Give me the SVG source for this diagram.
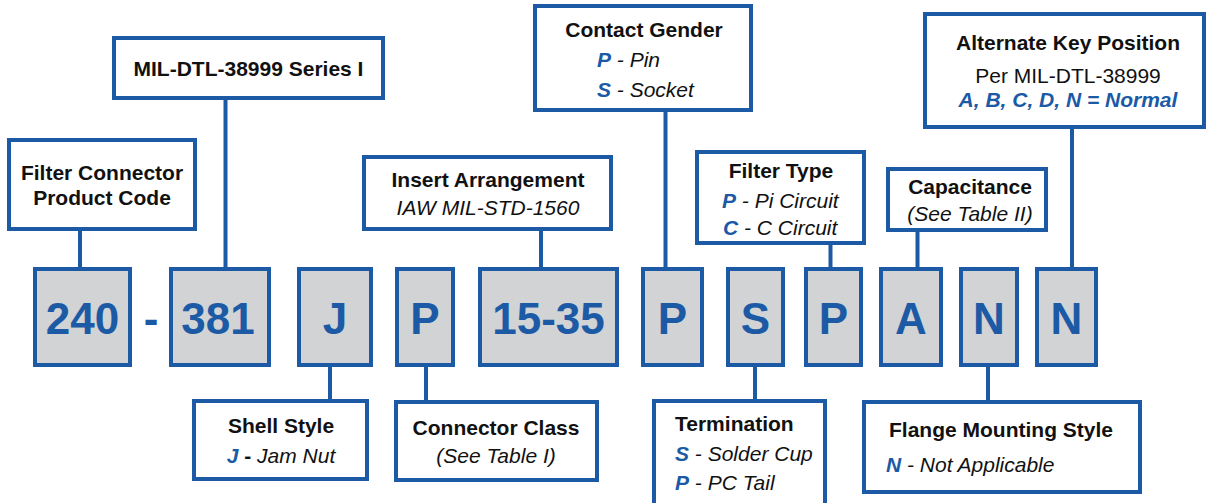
<svg xmlns="http://www.w3.org/2000/svg" width="1209" height="503" viewBox="0 0 1209 503">
<style>
text{font-family:"Liberation Sans",Arial,sans-serif;font-size:21px;fill:#111}
.box{fill:#fff;stroke:#1c5aa6;stroke-width:4}
.code{fill:#d1d3d4;stroke:#1c5aa6;stroke-width:4}
.ct{font-size:44px;font-weight:bold;fill:#1c5aa6;text-anchor:middle}
.t{font-weight:bold;text-anchor:middle}
.c{text-anchor:middle}
.i{font-style:italic}
.k{font-weight:bold;font-style:italic;fill:#1c5aa6}
.ln{stroke:#1c5aa6;stroke-width:4;fill:none}
</style>
<g id="connectors">
<line class="ln" x1="80" y1="229" x2="80" y2="269"/>
<line class="ln" x1="225.5" y1="98" x2="225.5" y2="269"/>
<line class="ln" x1="541" y1="229" x2="541" y2="269"/>
<line class="ln" x1="665.5" y1="110" x2="665.5" y2="269"/>
<line class="ln" x1="830.5" y1="243" x2="830.5" y2="269"/>
<line class="ln" x1="917.5" y1="230" x2="917.5" y2="269"/>
<line class="ln" x1="1072" y1="127" x2="1072" y2="269"/>
<line class="ln" x1="330" y1="365" x2="330" y2="403"/>
<line class="ln" x1="426" y1="365" x2="426" y2="404"/>
<line class="ln" x1="755" y1="365" x2="755" y2="403"/>
<line class="ln" x1="988" y1="365" x2="988" y2="404"/>
</g>
<g id="code-240"><rect class="code" x="35" y="269" width="95" height="96"/><text class="ct" x="82.5" y="334">240</text></g>
<g id="code-dash"><text class="ct" x="151" y="334">-</text></g>
<g id="code-381"><rect class="code" x="171" y="269" width="98" height="96"/><text class="ct" x="218" y="334">381</text></g>
<g id="code-J"><rect class="code" x="299" y="269" width="72" height="96"/><text class="ct" x="335" y="334">J</text></g>
<g id="code-P1"><rect class="code" x="397" y="269" width="56" height="96"/><text class="ct" x="425" y="334">P</text></g>
<g id="code-1535"><rect class="code" x="480" y="269" width="137" height="96"/><text class="ct" x="548.5" y="334">15-35</text></g>
<g id="code-P2"><rect class="code" x="643" y="269" width="59" height="96"/><text class="ct" x="672.5" y="334">P</text></g>
<g id="code-S"><rect class="code" x="728" y="269" width="55" height="96"/><text class="ct" x="755.5" y="334">S</text></g>
<g id="code-P3"><rect class="code" x="806" y="269" width="55" height="96"/><text class="ct" x="833.5" y="334">P</text></g>
<g id="code-A"><rect class="code" x="881" y="269" width="60" height="96"/><text class="ct" x="911" y="334">A</text></g>
<g id="code-N1"><rect class="code" x="961" y="269" width="56" height="96"/><text class="ct" x="989" y="334">N</text></g>
<g id="code-N2"><rect class="code" x="1037" y="269" width="59" height="96"/><text class="ct" x="1066.5" y="334">N</text></g>

<g id="product-code"><rect class="box" x="9" y="140" width="186" height="89"/>
<text class="t" x="102" y="180">Filter Connector</text><text class="t" x="102" y="205">Product Code</text></g>
<g id="series"><rect class="box" x="114" y="38" width="269" height="60"/>
<text class="t" x="248.5" y="76">MIL-DTL-38999 Series I</text></g>
<g id="contact-gender"><rect class="box" x="535" y="6" width="216" height="104"/>
<text class="t" x="644" y="37">Contact Gender</text>
<text x="597" y="67"><tspan class="k">P</tspan><tspan class="i"> - Pin</tspan></text>
<text x="597" y="97"><tspan class="k">S</tspan><tspan class="i"> - Socket</tspan></text></g>
<g id="insert-arrangement"><rect class="box" x="364" y="157" width="247" height="72"/>
<text class="t" x="488" y="187">Insert Arrangement</text>
<text class="c i" x="488" y="215">IAW MIL-STD-1560</text></g>
<g id="filter-type"><rect class="box" x="697" y="152" width="167" height="91"/>
<text class="t" x="781" y="178">Filter Type</text>
<text x="722" y="208"><tspan class="k">P</tspan><tspan class="i"> - Pi Circuit</tspan></text>
<text x="723" y="235"><tspan class="k">C</tspan><tspan class="i"> - C Circuit</tspan></text></g>
<g id="capacitance"><rect class="box" x="888" y="169" width="158" height="61"/>
<text class="t" x="970" y="194">Capacitance</text>
<text class="c i" x="970" y="221">(See Table II)</text></g>
<g id="alternate-key"><rect class="box" x="925" y="14" width="279" height="113"/>
<text class="t" x="1068" y="50">Alternate Key Position</text>
<text class="c" x="1068" y="83">Per MIL-DTL-38999</text>
<text class="c k" x="1068" y="107">A, B, C, D, N = Normal</text></g>

<g id="shell-style"><rect class="box" x="194" y="401" width="173" height="78"/>
<text class="t" x="281" y="433">Shell Style</text>
<text x="281" y="463" text-anchor="middle"><tspan class="k">J</tspan><tspan font-weight="bold"> - </tspan><tspan class="i">Jam Nut</tspan></text></g>
<g id="connector-class"><rect class="box" x="396" y="402" width="201" height="78"/>
<text class="t" x="496" y="435">Connector Class</text>
<text class="c i" x="496" y="463">(See Table I)</text></g>
<g id="termination"><rect class="box" x="654" y="401" width="171" height="110"/>
<text x="675" y="431" font-weight="bold">Termination</text>
<text x="675" y="461"><tspan class="k">S</tspan><tspan class="i"> - Solder Cup</tspan></text>
<text x="675" y="490"><tspan class="k">P</tspan><tspan class="i"> - PC Tail</tspan></text></g>
<g id="flange"><rect class="box" x="864" y="402" width="276" height="90"/>
<text class="t" x="1001" y="437">Flange Mounting Style</text>
<text x="886" y="472"><tspan class="k">N</tspan><tspan class="i"> - Not Applicable</tspan></text></g>
</svg>
